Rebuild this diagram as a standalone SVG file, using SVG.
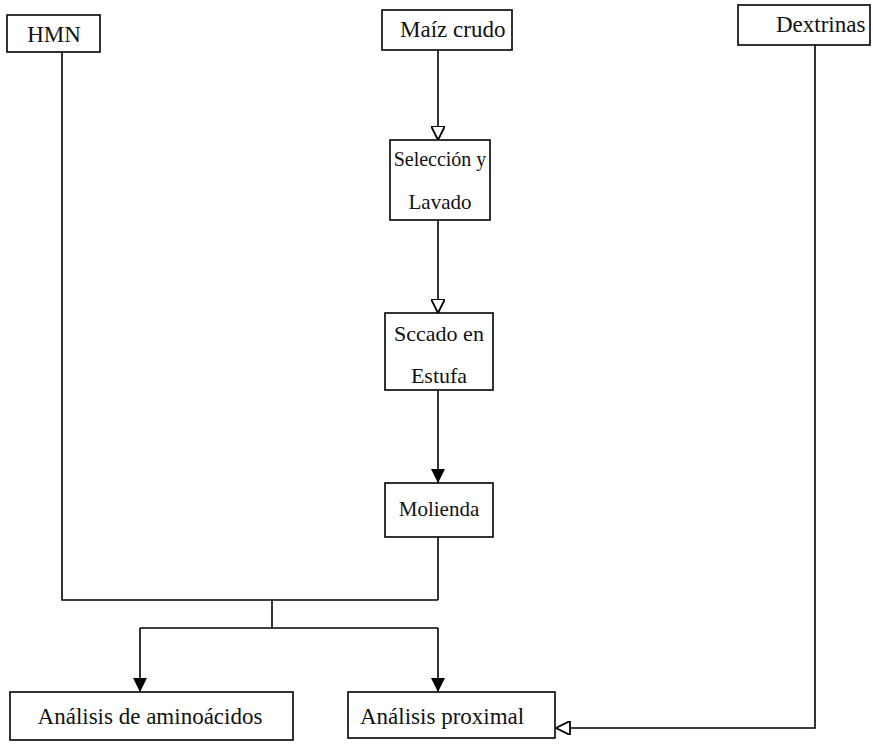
<svg xmlns="http://www.w3.org/2000/svg" width="873" height="754" viewBox="0 0 873 754">
<defs>
<style>
.box{fill:#fff;stroke:#000;stroke-width:1.6}
.t{font-family:"Liberation Serif","Times New Roman",serif;font-size:23px;fill:#111}
.m{font-size:22px}
.c{fill:none;stroke:#000;stroke-width:1.6}
</style>
<marker id="ah" viewBox="0 0 14 14" refX="14" refY="7" markerWidth="15" markerHeight="14" markerUnits="userSpaceOnUse" orient="auto">
<path d="M0,0 L14,7 L0,14 Z" fill="#fff" stroke="#000" stroke-width="1.8"/>
</marker>
<marker id="af" viewBox="0 0 14 14" refX="14" refY="7" markerWidth="15" markerHeight="14" markerUnits="userSpaceOnUse" orient="auto">
<path d="M0,0 L14,7 L0,14 Z" fill="#000"/>
</marker>
</defs>
<rect width="873" height="754" fill="#fff"/>
<g id="connectors">
<path class="c" d="M62,52 V600 H438"/>
<path class="c" d="M438,50 V140" marker-end="url(#ah)"/>
<path class="c" d="M438,220 V313" marker-end="url(#ah)"/>
<path class="c" d="M438,390 V483" marker-end="url(#af)"/>
<path class="c" d="M438,537 V600"/>
<path class="c" d="M272,600 V628"/>
<path class="c" d="M140,628 H438"/>
<path class="c" d="M140,628 V692" marker-end="url(#af)"/>
<path class="c" d="M438,628 V692" marker-end="url(#af)"/>
<path class="c" d="M815,45 V728 H556" marker-end="url(#ah)"/>
</g>
<g id="hmn">
<rect class="box" x="7" y="15" width="93" height="37"/>
<text class="t" x="54" y="42" text-anchor="middle">HMN</text>
</g>
<g id="maiz">
<rect class="box" x="382" y="10" width="130" height="40"/>
<text class="t" x="400" y="37">Maíz crudo</text>
</g>
<g id="dextrinas">
<rect class="box" x="738" y="5" width="132" height="40"/>
<text class="t" x="776" y="32">Dextrinas</text>
</g>
<g id="seleccion">
<rect class="box" x="390" y="140" width="100" height="80"/>
<text class="t" x="440" y="166" text-anchor="middle" style="font-size:20px">Selección y</text>
<text class="t" x="440" y="209" text-anchor="middle" style="font-size:21px">Lavado</text>
</g>
<g id="secado">
<rect class="box" x="385" y="313" width="108" height="77"/>
<text class="t m" x="439" y="341" text-anchor="middle">Sccado en</text>
<text class="t m" x="439" y="383" text-anchor="middle">Estufa</text>
</g>
<g id="molienda">
<rect class="box" x="385" y="483" width="108" height="54"/>
<text class="t" x="439" y="516" text-anchor="middle" style="font-size:21px">Molienda</text>
</g>
<g id="aminoacidos">
<rect class="box" x="10" y="692" width="283" height="48"/>
<text class="t" x="150" y="724" text-anchor="middle">Análisis de aminoácidos</text>
</g>
<g id="proximal">
<rect class="box" x="348" y="692" width="207" height="46"/>
<text class="t" x="360" y="724">Análisis proximal</text>
</g>
</svg>
